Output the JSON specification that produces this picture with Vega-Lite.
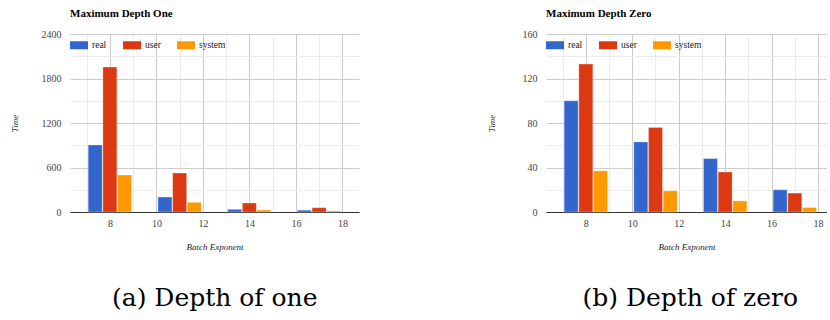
{
  "$schema": "https://vega.github.io/schema/vega-lite/v6.json",
  "background": "white",
  "padding": {"left": 10, "top": 8, "right": 0, "bottom": 0},
  "datasets": {
    "one": [
      {"exp": 8, "series": "real", "time": 903},
      {"exp": 8, "series": "user", "time": 1955},
      {"exp": 8, "series": "system", "time": 499},
      {"exp": 11, "series": "real", "time": 202},
      {"exp": 11, "series": "user", "time": 526},
      {"exp": 11, "series": "system", "time": 130},
      {"exp": 14, "series": "real", "time": 36},
      {"exp": 14, "series": "user", "time": 121},
      {"exp": 14, "series": "system", "time": 27},
      {"exp": 17, "series": "real", "time": 25},
      {"exp": 17, "series": "user", "time": 58},
      {"exp": 17, "series": "system", "time": 15}
    ],
    "zero": [
      {"exp": 8, "series": "real", "time": 100},
      {"exp": 8, "series": "user", "time": 133},
      {"exp": 8, "series": "system", "time": 37},
      {"exp": 11, "series": "real", "time": 63},
      {"exp": 11, "series": "user", "time": 76},
      {"exp": 11, "series": "system", "time": 19},
      {"exp": 14, "series": "real", "time": 48},
      {"exp": 14, "series": "user", "time": 36},
      {"exp": 14, "series": "system", "time": 10},
      {"exp": 17, "series": "real", "time": 20},
      {"exp": 17, "series": "user", "time": 17},
      {"exp": 17, "series": "system", "time": 4}
    ]
  },
  "spacing": 128,
  "hconcat": [
    {
      "title": {"text": "(a) Depth of one", "orient": "bottom", "anchor": "middle", "font": "DejaVu Serif", "fontSize": 25, "fontWeight": "normal", "color": "#000", "offset": 35, "dx": 30},
      "vconcat": [
        {
          "width": 289,
          "height": 178,
          "title": {"text": "Maximum Depth One", "anchor": "start", "frame": "group", "font": "Liberation Serif", "fontSize": 11, "fontWeight": "bold", "color": "#000", "offset": 10},
          "data": {"name": "one"},
          "encoding": {
            "x": {"field": "exp", "type": "quantitative", "scale": {"domain": [6.5, 18.5], "nice": false, "zero": false},
              "axis": {"values": [7, 8, 9, 10, 11, 12, 13, 14, 15, 16, 17, 18], "labelExpr": "datum.value % 2 === 0 ? datum.label : ''",
                "gridColor": {"condition": {"test": "datum.value % 2 === 0", "value": "#cccccc"}, "value": "#ebebeb"}, "title": "Batch Exponent"}},
            "y": {"field": "time", "type": "quantitative", "stack": null, "scale": {"domain": [0, 2400], "nice": false},
              "axis": {"values": [0, 300, 600, 900, 1200, 1500, 1800, 2100, 2400], "format": "d", "labelExpr": "datum.value % 600 === 0 ? datum.label : ''",
                "gridColor": {"condition": {"test": "datum.value % 600 === 0", "value": "#cccccc"}, "value": "#ebebeb"}, "title": "Time", "titlePadding": 21.5}},
            "color": {"field": "series", "type": "nominal", "scale": {"domain": ["real", "user", "system"], "range": ["#3366cc", "#dc3912", "#ff9900"]}, "legend": {"title": null}}
          },
          "layer": [
            {"transform": [{"filter": "datum.series === 'real'"}], "mark": {"type": "bar", "width": 14, "xOffset": -14.7, "stroke": "#ffffff", "strokeWidth": 0.6, "strokeOpacity": 0.5}},
            {"transform": [{"filter": "datum.series === 'user'"}], "mark": {"type": "bar", "width": 14, "xOffset": 0, "stroke": "#ffffff", "strokeWidth": 0.6, "strokeOpacity": 0.5}},
            {"transform": [{"filter": "datum.series === 'system'"}], "mark": {"type": "bar", "width": 14, "xOffset": 14.7, "stroke": "#ffffff", "strokeWidth": 0.6, "strokeOpacity": 0.5}}
          ]
        }
      ]
    },
    {
      "title": {"text": "(b) Depth of zero", "orient": "bottom", "anchor": "middle", "font": "DejaVu Serif", "fontSize": 25, "fontWeight": "normal", "color": "#000", "offset": 35, "dx": 33},
      "vconcat": [
        {
          "width": 281,
          "height": 178,
          "title": {"text": "Maximum Depth Zero", "anchor": "start", "frame": "group", "font": "Liberation Serif", "fontSize": 11, "fontWeight": "bold", "color": "#000", "offset": 10},
          "data": {"name": "zero"},
          "encoding": {
            "x": {"field": "exp", "type": "quantitative", "scale": {"domain": [6.5, 18.17], "nice": false, "zero": false},
              "axis": {"values": [7, 8, 9, 10, 11, 12, 13, 14, 15, 16, 17, 18], "labelExpr": "datum.value % 2 === 0 ? datum.label : ''",
                "gridColor": {"condition": {"test": "datum.value % 2 === 0", "value": "#cccccc"}, "value": "#ebebeb"}, "title": "Batch Exponent"}},
            "y": {"field": "time", "type": "quantitative", "stack": null, "scale": {"domain": [0, 160], "nice": false},
              "axis": {"values": [0, 20, 40, 60, 80, 100, 120, 140, 160], "format": "d", "labelExpr": "datum.value % 40 === 0 ? datum.label : ''",
                "gridColor": {"condition": {"test": "datum.value % 40 === 0", "value": "#cccccc"}, "value": "#ebebeb"}, "title": "Time", "titlePadding": 25.5}},
            "color": {"field": "series", "type": "nominal", "scale": {"domain": ["real", "user", "system"], "range": ["#3366cc", "#dc3912", "#ff9900"]}, "legend": {"title": null}}
          },
          "layer": [
            {"transform": [{"filter": "datum.series === 'real'"}], "mark": {"type": "bar", "width": 14, "xOffset": -14.7, "stroke": "#ffffff", "strokeWidth": 0.6, "strokeOpacity": 0.5}},
            {"transform": [{"filter": "datum.series === 'user'"}], "mark": {"type": "bar", "width": 14, "xOffset": 0, "stroke": "#ffffff", "strokeWidth": 0.6, "strokeOpacity": 0.5}},
            {"transform": [{"filter": "datum.series === 'system'"}], "mark": {"type": "bar", "width": 14, "xOffset": 14.7, "stroke": "#ffffff", "strokeWidth": 0.6, "strokeOpacity": 0.5}}
          ]
        }
      ]
    }
  ],
  "resolve": {"scale": {"color": "independent"}},
  "config": {
    "view": {"stroke": null},
    "axis": {"ticks": false, "labelFont": "Liberation Serif", "labelFontSize": 10, "labelColor": "#444444", "titleFont": "Liberation Serif", "titleFontStyle": "italic", "titleFontWeight": "normal", "titleFontSize": 9, "titleColor": "#222222", "gridOpacity": 1},
    "axisY": {"domain": false, "labelPadding": 9},
    "axisX": {"domain": true, "domainColor": "#333333", "domainWidth": 1, "labelPadding": 6, "titlePadding": 14, "labelAngle": 0},
    "legend": {"orient": "none", "legendX": 0, "legendY": 2, "direction": "horizontal", "symbolType": "M-1,-0.444L1,-0.444L1,0.444L-1,0.444Z", "symbolSize": 324, "symbolStrokeWidth": 0, "symbolOpacity": 1, "labelFont": "Liberation Serif", "labelFontSize": 9.5, "labelColor": "#222222", "labelOffset": 4, "columnPadding": 16, "padding": 0}
  }
}
